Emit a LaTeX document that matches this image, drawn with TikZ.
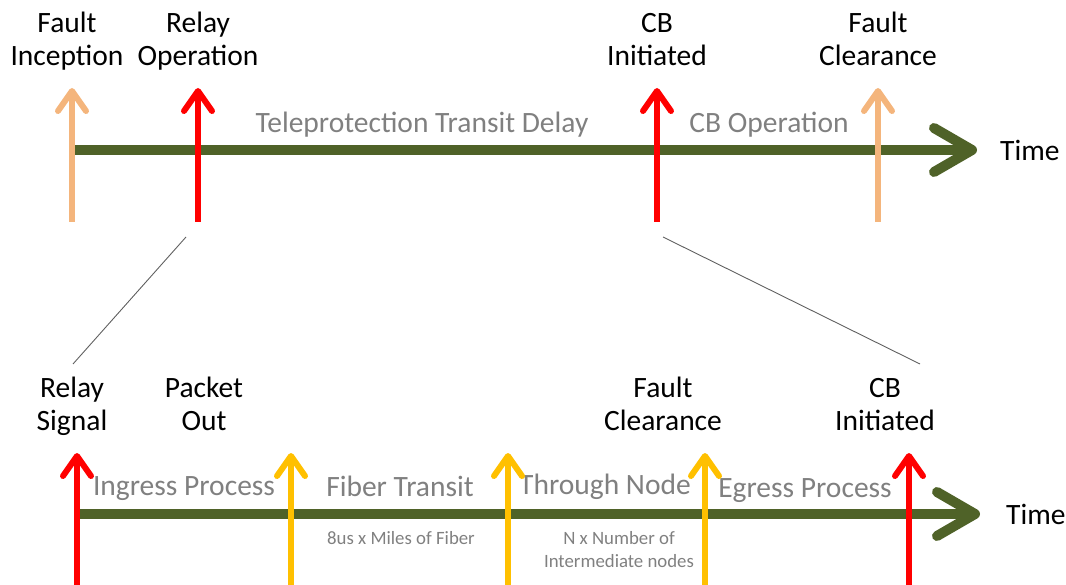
\documentclass[tikz,border=0pt]{standalone}
\usepackage{fontspec}
\setmainfont{Carlito}
\usetikzlibrary{arrows.meta}

\definecolor{timegreen}{HTML}{4F6228}
\definecolor{faulttan}{HTML}{F4B57C}
\definecolor{relayred}{HTML}{FF0000}
\definecolor{packetyellow}{HTML}{FFC000}
\definecolor{phasegray}{HTML}{808080}
\definecolor{linkgray}{HTML}{606060}

\tikzset{
  timeline/.style={draw=timegreen, line width=10pt,
    -{Straight Barb[length=38pt, width=44pt, round]}},
  marker/.style={line width=6pt,
    -{Straight Barb[length=20pt, width=28pt, round]}},
  % two-line event labels, placed by the baseline of their last line
  event/.style={align=center, anchor=base, font=\fontsize{29.5}{33}\selectfont, text=black, inner sep=0pt},
  timelabel/.style={anchor=west, font=\fontsize{29.5}{33}\selectfont, text=black, inner sep=0pt},
  phase/.style={anchor=base, font=\fontsize{29.5}{33}\selectfont, text=phasegray, inner sep=0pt},
  note/.style={align=center, anchor=base, font=\fontsize{18.8}{23}\selectfont, text=phasegray, inner sep=0pt},
  zoomlink/.style={draw=linkgray, line width=0.9pt},
}

\begin{document}
\begin{tikzpicture}[x=1pt, y=-1pt]
\useasboundingbox (0,0) rectangle (1066,585);

% ---------- upper time axis: protection sequence ----------
\coordinate (t0) at (72,150);
\coordinate (t1) at (977,150);
\draw[timeline] (t0) -- (t1);
\node[timelabel] (timeA) at (1000,150) {Time};

\node[phase] (tpd) at (422,133) {Teleprotection Transit Delay};
\node[phase] (cbop) at (769,133) {CB Operation};

\coordinate (fiB) at (72,222);  \coordinate (fiT) at (72,88);
\coordinate (roB) at (198,222); \coordinate (roT) at (198,88);
\coordinate (ciB) at (657,222); \coordinate (ciT) at (657,88);
\coordinate (fcB) at (878,222); \coordinate (fcT) at (878,88);

\draw[marker, faulttan] (fiB) -- (fiT);
\draw[marker, relayred] (roB) -- (roT);
\draw[marker, relayred] (ciB) -- (ciT);
\draw[marker, faulttan] (fcB) -- (fcT);

\node[event] (fi) at (67,66)  {Fault\\Inception};
\node[event] (ro) at (198,66) {Relay\\Operation};
\node[event] (ci) at (657,66) {CB\\Initiated};
\node[event] (fc) at (878,66) {Fault\\Clearance};

% ---------- lower time axis: teleprotection channel detail ----------
\coordinate (b0) at (77,514);
\coordinate (b1) at (980,514);
\draw[timeline] (b0) -- (b1);
\node[timelabel] (timeB) at (1006,514) {Time};

\node[phase] (ing) at (184,495) {Ingress Process};
\node[phase] (fib) at (400,496) {Fiber Transit};
\node[phase] (thr) at (605,494) {Through Node};
\node[phase] (egr) at (805,497) {Egress Process};

\node[note] (fibnote) at (401,544) {8us x Miles of Fiber};
\node[note] (thrnote) at (619,567) {N x Number of\\Intermediate nodes};

\coordinate (rsB) at (77,590);  \coordinate (rsT) at (77,453);
\coordinate (poB) at (291,590); \coordinate (poT) at (291,453);
\coordinate (tnB) at (508,590); \coordinate (tnT) at (508,453);
\coordinate (fbB) at (705,590); \coordinate (fbT) at (705,453);
\coordinate (cbB) at (909,590); \coordinate (cbT) at (909,453);

\draw[marker, relayred]     (rsB) -- (rsT);
\draw[marker, packetyellow] (poB) -- (poT);
\draw[marker, packetyellow] (tnB) -- (tnT);
\draw[marker, packetyellow] (fbB) -- (fbT);
\draw[marker, relayred]     (cbB) -- (cbT);

\node[event] (rs) at (72,430)  {Relay\\Signal};
\node[event] (po) at (204,430) {Packet\\Out};
\node[event] (fb) at (663,430) {Fault\\Clearance};
\node[event] (cb) at (885,430) {CB\\Initiated};

% ---------- zoom lines between the two axes ----------
\coordinate (zl1a) at (186,237); \coordinate (zl1b) at (73,364);
\coordinate (zl2a) at (663,237); \coordinate (zl2b) at (920,364);
\draw[zoomlink] (zl1a) -- (zl1b);
\draw[zoomlink] (zl2a) -- (zl2b);
\end{tikzpicture}
\end{document}
